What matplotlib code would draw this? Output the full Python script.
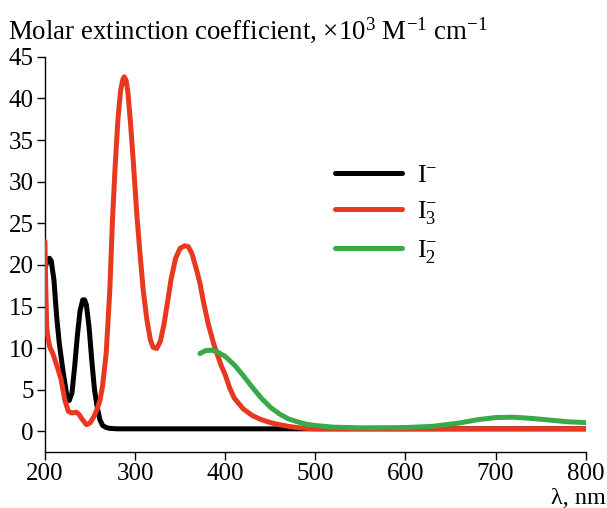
import matplotlib as mpl
mpl.use('Agg')
import matplotlib.pyplot as plt

mpl.rcParams['font.family'] = ['Liberation Serif', 'DejaVu Serif']
mpl.rcParams['mathtext.fontset'] = 'custom'
mpl.rcParams['mathtext.rm'] = 'Liberation Serif'
mpl.rcParams['mathtext.it'] = 'Liberation Serif:italic'

# I- spectrum
wl_i = [200, 203, 205, 207, 210, 213, 216, 220, 224, 227, 230, 233, 236, 239,
        242, 244, 246, 249, 252, 255, 258, 261, 264, 268, 272, 280, 800]
eps_i = [19.6, 20.6, 20.8, 20.5, 18.2, 13.8, 10.5, 7.3, 4.5, 3.7, 4.6, 7.8, 11.5,
         14.5, 15.8, 15.8, 15.2, 12.5, 8.5, 5.0, 2.9, 1.4, 0.7, 0.45, 0.35, 0.3, 0.3]

# I3- spectrum
wl_i3 = [200, 201, 202, 203.5, 205.5, 209, 212, 215, 218, 222, 226, 230, 235, 238,
         241, 246, 250, 255, 258, 261, 264, 268, 272, 275, 278, 281, 284, 286.5, 288,
         290, 292, 295, 298, 302, 305, 309, 313, 317, 320, 324, 328, 332, 336, 340,
         345, 350, 355, 359, 363, 368, 372, 376, 381, 387, 391, 396, 400, 405, 410,
         420, 430, 440, 450, 460, 470, 480, 490, 500, 800]
eps_i3 = [22.8, 17.0, 12.5, 11.2, 10.1, 9.3, 8.3, 7.3, 6.2, 3.8, 2.4, 2.2, 2.3, 2.0,
          1.5, 0.8, 1.0, 1.9, 2.7, 3.7, 5.5, 9.4, 17.0, 25.5, 32.0, 37.5, 41.0, 42.3,
          42.6, 42.2, 40.8, 37.0, 32.5, 26.0, 22.0, 17.0, 13.5, 11.0, 10.1, 9.95, 10.8,
          12.8, 15.5, 18.3, 20.8, 22.0, 22.3, 22.2, 21.4, 19.5, 17.8, 15.5, 13.0, 10.6,
          9.3, 7.8, 6.8, 5.2, 4.0, 2.7, 1.9, 1.4, 1.05, 0.8, 0.6, 0.45, 0.35, 0.3, 0.3]

# I2- spectrum
wl_i2 = [372, 378, 385, 392, 400, 410, 420, 430, 440, 450, 460, 470, 480, 490, 500,
         520, 550, 600, 630, 660, 680, 700, 720, 740, 760, 780, 800]
eps_i2 = [9.35, 9.7, 9.75, 9.5, 9.0, 8.0, 6.7, 5.3, 4.0, 2.9, 2.1, 1.5, 1.15, 0.85,
          0.7, 0.5, 0.42, 0.45, 0.6, 1.0, 1.4, 1.65, 1.7, 1.55, 1.35, 1.15, 1.05]

fig = plt.figure(figsize=(6.07, 5.08), dpi=100)
ax = fig.add_axes([0.074, 0.110, 0.891, 0.778])

kw = dict(lw=3.6, solid_capstyle='round', solid_joinstyle='round')
l1, = ax.plot(wl_i, eps_i, color='black', zorder=2, **kw)
l2, = ax.plot(wl_i3, eps_i3, color='#e8381f', zorder=3, **kw)
l3, = ax.plot(wl_i2, eps_i2, color='#3aaa48', zorder=4, **kw)

ax.set_xlim(200, 800)
ax.set_ylim(-2.5, 45)
ax.set_xticks([200, 300, 400, 500, 600, 700, 800])
ax.set_yticks([0, 5, 10, 15, 20, 25, 30, 35, 40, 45])
ax.spines['top'].set_visible(False)
ax.spines['right'].set_visible(False)
ax.tick_params(direction='out', length=6, width=1, labelsize=18, pad=2)
for s in ['left', 'bottom']:
    ax.spines[s].set_linewidth(1)

ax.legend([l1, l2, l3], [r'$\mathrm{I}^{-}$', r'$\mathrm{I}_3^{-}$', r'$\mathrm{I}_2^{-}$'],
          loc='upper left', bbox_to_anchor=(0.492, 0.79), frameon=False,
          fontsize=19, handlelength=2.55, labelspacing=0.45, handletextpad=0.55)

fig.text(0.013, 0.94, r'Molar extinction coefficient, $\times$10$^3$ M$^{-1}$ cm$^{-1}$',
         fontsize=19.4, ha='left', va='center')
fig.text(0.998, 0.018, 'λ, nm', fontsize=17.5, ha='right', va='center')

plt.savefig('out.png')
